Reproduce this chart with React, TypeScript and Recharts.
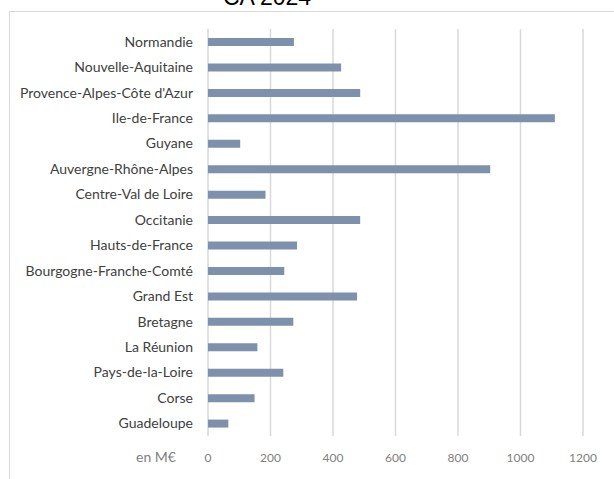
import React from 'react';
import { BarChart, Bar, XAxis, YAxis, CartesianGrid } from 'recharts';

const REGIONS = [
    'Normandie',
    'Nouvelle-Aquitaine',
    "Provence-Alpes-Côte d'Azur",
    'Ile-de-France',
    'Guyane',
    'Auvergne-Rhône-Alpes',
    'Centre-Val de Loire',
    'Occitanie',
    'Hauts-de-France',
    'Bourgogne-Franche-Comté',
    'Grand Est',
    'Bretagne',
    'La Réunion',
    'Pays-de-la-Loire',
    'Corse',
    'Guadeloupe',
];

const CA_2024 = [275, 426, 487, 1110, 103, 903, 184, 487, 285, 244, 477, 273, 158, 241, 149, 65];

const X_TICKS = [0, 200, 400, 600, 800, 1000, 1200];

const TITLE = 'CA 2024';
const UNIT = 'en M€';

const chartData = REGIONS.map((name, i) => ({ name, value: CA_2024[i] }));

const FONT = 'Lato, "Open Sans", sans-serif';

export default function App() {
    return (
        <div style={{ position: 'absolute', left: 0, top: 0, width: 614, height: 479, overflow: 'hidden', background: '#fff' }}>
            <div
                style={{
                    position: 'absolute',
                    left: 9,
                    top: 11,
                    width: 700,
                    height: 600,
                    border: '1px solid #d9d9d9',
                }}
            />
            <svg style={{ position: 'absolute', left: 0, top: 0 }} width={614} height={20}>
                <text x={267} y={5} textAnchor="middle" fontFamily="Arial, sans-serif" fontSize={23} fill="#000">
                    {TITLE}
                </text>
            </svg>
            <div style={{ position: 'absolute', left: 0, top: 0 }}>
                <BarChart
                    layout="vertical"
                    width={614}
                    height={479}
                    data={chartData}
                    margin={{ top: 29, right: 31, left: 0, bottom: 0 }}
                    barSize={8}
                >
                    <CartesianGrid horizontal={false} stroke="#d9d9d9" strokeWidth={1.5} />
                    <XAxis
                        type="number"
                        domain={[0, 1200]}
                        ticks={X_TICKS}
                        interval={0}
                        height={43}
                        axisLine={false}
                        tickLine={false}
                        tickSize={0}
                        tickMargin={17}
                        tick={{ fontSize: 12, fill: '#808080', fontFamily: FONT }}
                        label={{ value: UNIT, position: 'left', offset: 32, fontSize: 14, fill: '#7f7f7f', fontFamily: FONT }}
                    />
                    <YAxis
                        dataKey="name"
                        type="category"
                        width={208}
                        axisLine={false}
                        tickLine={false}
                        tickSize={0}
                        tickMargin={15}
                        interval={0}
                        tick={{ fontSize: 14, fill: '#404040', fontFamily: FONT }}
                    />
                    <Bar dataKey="value" fill="#7d91ac" isAnimationActive={false} />
                </BarChart>
            </div>
        </div>
    );
}
